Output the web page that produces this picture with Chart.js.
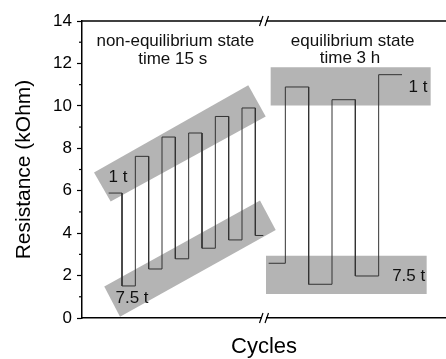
<!DOCTYPE html>
<html>
<head>
<meta charset="utf-8">
<script src="https://cdn.jsdelivr.net/npm/chart.js@4/dist/chart.umd.min.js"></script>
<style>
  html, body { margin: 0; padding: 0; background: #fff; overflow: hidden; }
  #wrap { width: 446px; height: 359px; position: relative; }
</style>
</head>
<body>
<div id="wrap"><canvas id="chart"></canvas></div>
<script>
// step edges (cycle units along the broken x axis) and resistance levels, kOhm
var nonEqEdges = [2, 3, 4, 5, 6, 7, 8, 9, 10, 11, 12, 13, 13.6];
var nonEqLevels = [5.89, 1.51, 7.62, 2.31, 8.53, 2.79, 8.72, 3.29, 9.50, 3.68, 9.90, 3.89];
var eqEdges = [14.0, 15.25, 17.0, 18.75, 20.5, 22.25, 24.0];
var eqLevels = [2.58, 10.89, 1.59, 10.29, 1.98, 11.47];

// grey bands round the 1 t and 7.5 t states
var bandNonEqHighX = [0.9, 12.47, 13.78, 2.15];
var bandNonEqHighY = [6.86, 10.97, 9.50, 5.49];
var bandNonEqLowX = [1.67, 13.35, 14.53, 2.85];
var bandNonEqLowY = [1.48, 5.54, 4.15, 0.06];
var bandEqHighX = [14.15, 26.15, 26.15, 14.15];
var bandEqHighY = [11.82, 11.82, 10.02, 10.02];
var bandEqLowX = [13.8, 25.85, 25.85, 13.8];
var bandEqLowY = [2.94, 2.94, 1.13, 1.13];

var yTicks = [0, 2, 4, 6, 8, 10, 12, 14];
var axisBreak = 13.65;

var notes = [
  {text: 'non-equilibrium state', x: 7.0, y: 13.03},
  {text: 'time 15 s', x: 6.8, y: 12.2},
  {text: 'equilibrium state', x: 20.3, y: 13.03},
  {text: 'time 3 h', x: 20.1, y: 12.22},
  {text: '1 t', x: 2.7, y: 6.61},
  {text: '7.5 t', x: 3.75, y: 0.92},
  {text: '1 t', x: 25.2, y: 10.88},
  {text: '7.5 t', x: 24.5, y: 1.98}
];

var FONT = "'Liberation Sans', Arial, sans-serif";

function stepPoints(edges, levels) {
  var pts = [];
  for (var i = 0; i < levels.length; i++) {
    pts.push({x: edges[i], y: levels[i]});
    pts.push({x: edges[i + 1], y: levels[i]});
  }
  return pts;
}

function polyPoints(xs, ys) {
  var pts = [];
  for (var i = 0; i < xs.length; i++) pts.push({x: xs[i], y: ys[i]});
  pts.push({x: xs[0], y: ys[0]});
  return pts;
}

function traceSet(pts) {
  return {data: pts, borderColor: '#333', borderWidth: 1, pointRadius: 0, fill: false, tension: 0};
}

function bandSet(pts) {
  return {data: pts, borderWidth: 0, borderColor: 'rgba(0,0,0,0)', backgroundColor: '#b4b4b4',
    pointRadius: 0, fill: 'shape', tension: 0};
}

var extras = {
  id: 'extras',
  afterDatasetsDraw: function (chart) {
    var ctx = chart.ctx, xs = chart.scales.x, ys = chart.scales.y;
    ctx.save();
    ctx.fillStyle = '#111';
    ctx.font = '17px ' + FONT;
    ctx.textAlign = 'center';
    ctx.textBaseline = 'middle';
    notes.forEach(function (n) {
      ctx.fillText(n.text, xs.getPixelForValue(n.x), ys.getPixelForValue(n.y));
    });
    ctx.restore();
  },
  afterDraw: function (chart) {
    var ctx = chart.ctx, a = chart.chartArea, xs = chart.scales.x, ys = chart.scales.y;
    ctx.save();
    // top frame line
    ctx.strokeStyle = '#000';
    ctx.lineWidth = 1.5;
    ctx.beginPath();
    ctx.moveTo(a.left - 0.75, a.top);
    ctx.lineTo(a.right, a.top);
    ctx.stroke();
    // minor ticks on y
    ctx.lineWidth = 1.2;
    for (var v = 1; v < 14; v += 2) {
      var py = ys.getPixelForValue(v);
      ctx.beginPath();
      ctx.moveTo(a.left - 3, py);
      ctx.lineTo(a.left, py);
      ctx.stroke();
    }
    // axis break marks
    var bx = xs.getPixelForValue(axisBreak);
    [a.top, a.bottom].forEach(function (y) {
      ctx.fillStyle = '#fff';
      ctx.fillRect(bx - 2, y - 2, 4, 4);
      ctx.strokeStyle = '#000';
      ctx.lineWidth = 1.2;
      ctx.beginPath();
      ctx.moveTo(bx - 4.5, y + 5); ctx.lineTo(bx - 1, y - 5);
      ctx.moveTo(bx + 1, y + 5); ctx.lineTo(bx + 4.5, y - 5);
      ctx.stroke();
    });
    ctx.restore();
  }
};

new Chart(document.getElementById('chart'), {
  type: 'line',
  data: {
    datasets: [
      traceSet(stepPoints(nonEqEdges, nonEqLevels)),
      traceSet(stepPoints(eqEdges, eqLevels)),
      bandSet(polyPoints(bandNonEqHighX, bandNonEqHighY)),
      bandSet(polyPoints(bandNonEqLowX, bandNonEqLowY)),
      bandSet(polyPoints(bandEqHighX, bandEqHighY)),
      bandSet(polyPoints(bandEqLowX, bandEqLowY))
    ]
  },
  options: {
    responsive: true,
    maintainAspectRatio: false,
    animation: false,
    events: [],
    layout: {padding: {top: 21, left: 0, right: 0, bottom: 0}},
    plugins: {legend: {display: false}, tooltip: {enabled: false}},
    scales: {
      x: {
        type: 'linear',
        min: 0,
        max: 27.3,
        grid: {display: false},
        border: {display: true, color: '#000', width: 1.5},
        ticks: {display: false},
        title: {display: true, text: 'Cycles', color: '#000',
          font: {family: FONT, size: 22, lineHeight: 1}, padding: {top: 0, bottom: 1}},
        afterFit: function (scale) { scale.height = 41; }
      },
      y: {
        min: 0,
        max: 14,
        afterBuildTicks: function (scale) {
          scale.ticks = yTicks.map(function (v) { return {value: v}; });
        },
        grid: {drawOnChartArea: false, tickLength: 5, tickColor: '#000', tickWidth: 1.2},
        border: {display: true, color: '#000', width: 1.5},
        ticks: {color: '#000', padding: 5, font: {family: FONT, size: 17}},
        title: {display: true, text: 'Resistance (kOhm)', color: '#000',
          font: {family: FONT, size: 21, lineHeight: 1}, padding: {top: 14, bottom: 0}},
        afterFit: function (scale) { scale.width = 82; }
      }
    }
  },
  plugins: [extras]
});
</script>
</body>
</html>
